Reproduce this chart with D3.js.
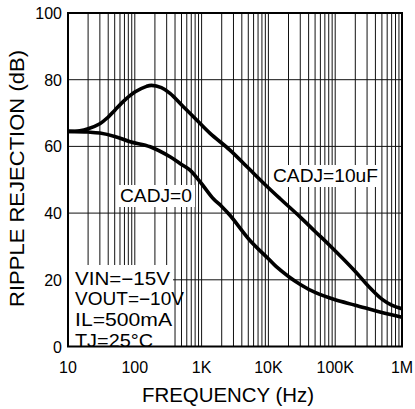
<!DOCTYPE html>
<html>
<head>
<meta charset="utf-8">
<script src="https://cdn.jsdelivr.net/npm/d3@7"></script>
<style>
  body { margin: 0; background: #fff; }
  text { font-family: "Liberation Sans", Arial, sans-serif; fill: #000; }
</style>
</head>
<body>
<div id="chart"></div>
<script>
// ripple rejection vs frequency
var freqNoCap = [10, 20, 30, 50, 85, 170, 337, 500, 670, 1000, 1500, 2000, 2700, 5300, 10000, 13000, 20000, 30000, 50000, 100000, 200000, 500000, 1000000];
var rejNoCap  = [64.5, 64.3, 64.0, 63.0, 61.4, 59.9, 56.9, 54.6, 52.9, 48.8, 44.3, 42.0, 39.2, 31.8, 26.3, 24.0, 21.0, 18.6, 16.2, 14.0, 12.4, 10.2, 8.8];

var freqCap = [10, 15, 20, 30, 40, 50, 70, 100, 150, 178, 250, 337, 533, 844, 1340, 2660, 5000, 10000, 15000, 30000, 50000, 83000, 200000, 300000, 500000, 700000, 1000000];
var rejCap  = [64.5, 64.7, 65.3, 66.8, 68.8, 70.8, 73.8, 76.3, 78.0, 78.3, 77.6, 75.9, 71.9, 67.9, 63.9, 58.9, 53.5, 47.6, 44.3, 38.8, 34.5, 30.3, 22.5, 18.5, 14.2, 12.4, 11.3];

var yTicks = [0, 20, 40, 60, 80, 100];
var xTicks = [10, 100, 1000, 10000, 100000, 1000000];
var xTickLabels = ['10', '100', '1K', '10K', '100K', '1M'];
var conditions = ['VIN=\u221215V', 'VOUT=\u221210V', 'IL=500mA', 'TJ=25\u00b0C'];

var width = 415, height = 409;
var plotL = 68, plotR = 402, plotT = 13, plotB = 346.5;

var svg = d3.select('#chart').append('svg')
  .attr('width', width).attr('height', height);

var x = d3.scaleLog().domain([10, 1000000]).range([plotL, plotR]);
var y = d3.scaleLinear().domain([0, 100]).range([plotB, plotT]);

// grid: every 1..9 step of each decade, horizontal every 20 dB
var minor = [];
for (var d = 10; d < 1000000; d *= 10) {
  for (var k = 1; k < 10; k++) {
    if (d * k > 10) minor.push(d * k);
  }
}

var grid = svg.append('g');
grid.selectAll('line.v')
  .data(minor)
  .enter()
  .append('line')
  .attr('x1', function(f) { return x(f); })
  .attr('x2', function(f) { return x(f); })
  .attr('y1', plotT).attr('y2', plotB)
  .attr('stroke', '#111').attr('stroke-width', 1);

grid.selectAll('line.h')
  .data(yTicks.slice(1, -1))
  .enter()
  .append('line')
  .attr('x1', plotL).attr('x2', plotR)
  .attr('y1', function(v) { return y(v); })
  .attr('y2', function(v) { return y(v); })
  .attr('stroke', '#111').attr('stroke-width', 1);

var line = d3.line()
  .x(function(d) { return x(d[0]); })
  .y(function(d) { return y(d[1]); })
  .curve(d3.curveCatmullRom.alpha(0.5));

function drawCurve(fs, vs) {
  svg.append('path')
    .datum(d3.zip(fs, vs))
    .attr('d', line)
    .attr('fill', 'none')
    .attr('stroke', '#000')
    .attr('stroke-width', 3.6)
    .attr('stroke-linejoin', 'round');
}
drawCurve(freqNoCap, rejNoCap);
drawCurve(freqCap, rejCap);

// labels with white boxes that mask the grid
function boxedText(str, tx, ty, len, size, pad) {
  var g = svg.append('g');
  var rect = g.append('rect').attr('fill', '#fff');
  var t = g.append('text')
    .attr('x', tx).attr('y', ty)
    .attr('font-size', size)
    .attr('textLength', len)
    .attr('lengthAdjust', 'spacingAndGlyphs')
    .text(str);
  var bb = t.node().getBBox();
  rect.attr('x', bb.x - pad).attr('y', bb.y - 1)
    .attr('width', bb.width + pad * 2).attr('height', bb.height + 2);
}

boxedText('CADJ=0', 120, 202, 72, 18, 3);
boxedText('CADJ=10uF', 273, 182, 105, 18, 3);

// test conditions block in the lower left corner
svg.append('rect')
  .attr('x', plotL).attr('y', 265)
  .attr('width', 105).attr('height', plotB - 265)
  .attr('fill', '#fff');
var condLen = [95, 109, 97, 78];
svg.selectAll('text.cond')
  .data(conditions)
  .enter()
  .append('text')
  .attr('x', 75)
  .attr('y', function(d, i) { return 284.5 + i * 20.7; })
  .attr('font-size', 18)
  .attr('textLength', function(d, i) { return condLen[i]; })
  .attr('lengthAdjust', 'spacingAndGlyphs')
  .text(function(d) { return d; });

// frame
svg.append('rect')
  .attr('x', plotL).attr('y', plotT)
  .attr('width', plotR - plotL).attr('height', plotB - plotT)
  .attr('fill', 'none').attr('stroke', '#000').attr('stroke-width', 2);

// tick labels
svg.selectAll('text.yt')
  .data(yTicks)
  .enter()
  .append('text')
  .attr('x', 62)
  .attr('y', function(v) { return y(v) + 6; })
  .attr('text-anchor', 'end')
  .attr('font-size', 16)
  .text(function(v) { return v; });

svg.selectAll('text.xt')
  .data(xTicks)
  .enter()
  .append('text')
  .attr('x', function(f) { return x(f); })
  .attr('y', 373)
  .attr('text-anchor', 'middle')
  .attr('font-size', 16)
  .text(function(f, i) { return xTickLabels[i]; });

// axis titles
svg.append('text')
  .attr('x', 142).attr('y', 401.5)
  .attr('font-size', 20)
  .attr('textLength', 172)
  .attr('lengthAdjust', 'spacingAndGlyphs')
  .text('FREQUENCY (Hz)');

svg.append('text')
  .attr('transform', 'translate(24,307) rotate(-90)')
  .attr('font-size', 20)
  .attr('textLength', 257)
  .attr('lengthAdjust', 'spacingAndGlyphs')
  .text('RIPPLE REJECTION (dB)');
</script>
</body>
</html>
